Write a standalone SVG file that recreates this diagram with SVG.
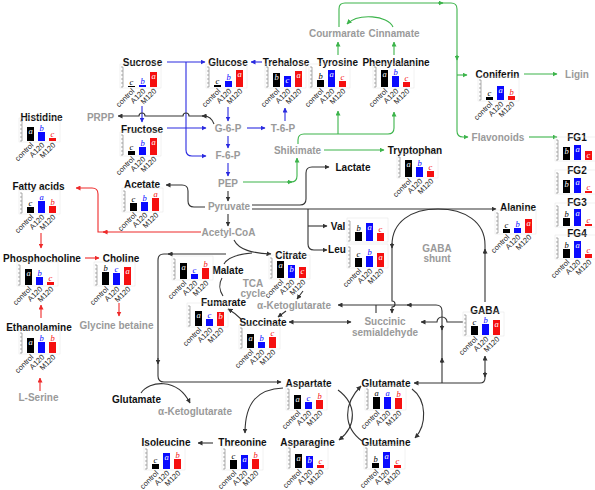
<svg xmlns="http://www.w3.org/2000/svg" xmlns:xlink="http://www.w3.org/1999/xlink" width="595" height="490" viewBox="0 0 595 490">
<style>
.n{font:bold 10px "Liberation Sans",Arial,sans-serif;fill:#111;text-anchor:middle}
.g{font:bold 10px "Liberation Sans",Arial,sans-serif;fill:#9a9a9a;text-anchor:middle}
.k{fill:none;stroke:#333;stroke-width:1.1}
.b{fill:none;stroke:#2a2ae0;stroke-width:1.1}
.gr{fill:none;stroke:#3cb44b;stroke-width:1.1}
.r{fill:none;stroke:#ee2a2a;stroke-width:1.1}
.bk{fill:#000}.bb{fill:#0a0aff}.br{fill:#f51010}
.l{font:italic 8.5px "Liberation Serif",serif;text-anchor:middle}
.lw{fill:#fff}.lk{fill:#000}.lb{fill:#0a0aff}.lr{fill:#f51010}
.cl{font:7.5px "Liberation Sans",Arial,sans-serif;text-anchor:end;fill:#222}
</style>
<defs>
<marker id="mk" viewBox="0 0 10 10" refX="9" refY="5" markerWidth="5" markerHeight="5" markerUnits="userSpaceOnUse" orient="auto-start-reverse"><path d="M0,0L10,5L0,10z" fill="#333"/></marker>
<marker id="mb" viewBox="0 0 10 10" refX="9" refY="5" markerWidth="5" markerHeight="5" markerUnits="userSpaceOnUse" orient="auto-start-reverse"><path d="M0,0L10,5L0,10z" fill="#2a2ae0"/></marker>
<marker id="mg" viewBox="0 0 10 10" refX="9" refY="5" markerWidth="5" markerHeight="5" markerUnits="userSpaceOnUse" orient="auto-start-reverse"><path d="M0,0L10,5L0,10z" fill="#3cb44b"/></marker>
<marker id="mr" viewBox="0 0 10 10" refX="9" refY="5" markerWidth="5" markerHeight="5" markerUnits="userSpaceOnUse" orient="auto-start-reverse"><path d="M0,0L10,5L0,10z" fill="#ee2a2a"/></marker>
<g id="ax">
<rect x="-3" y="-23" width="41" height="24" fill="none" stroke="#e4e4e4" stroke-width="0.5"/>
<path d="M0,-20V0M-2,0H0M-2,-4H0M-2,-8H0M-2,-12H0M-2,-16H0M-2,-20H0" stroke="#777" stroke-width="0.6" fill="none"/>
</g>
<g id="lb">
<text class="cl" transform="translate(12,4.5) rotate(-45)">control</text>
<text class="cl" transform="translate(23,4.5) rotate(-45)">A120</text>
<text class="cl" transform="translate(34,4.5) rotate(-45)">M120</text>
</g>
</defs>
<rect width="595" height="490" fill="#fff"/>

<g id="edges">
<path class="b" d="M167,62H205" marker-end="url(#mb)"/>
<path class="b" d="M186,62V150Q186,156 192,156H206" marker-end="url(#mb)"/>
<path class="b" d="M167,128H206" marker-end="url(#mb)"/>
<path class="b" d="M262,62H251" marker-end="url(#mb)"/>
<path class="b" d="M228,107V121" marker-end="url(#mb)"/>
<path class="b" d="M228,136V148" marker-end="url(#mb)"/>
<path class="b" d="M247,128H265" marker-end="url(#mb)"/>
<path class="b" d="M285,121V108" marker-end="url(#mb)"/>
<path class="b" d="M228,163V176" marker-end="url(#mb)"/>
<path class="b" d="M142,106V122" marker-end="url(#mb)"/>
<path class="k" d="M228,191V201" marker-end="url(#mk)"/>
<path class="k" d="M228,214V226" marker-end="url(#mk)"/>
<path class="k" d="M205,207H194Q188,207 188,201V191Q188,185 182,185H166" marker-end="url(#mk)"/>
<path class="k" d="M214,124Q211,116 204,116H189a3,3 0 0 0 -6,0H145a3,3 0 0 0 -6,0H118" marker-end="url(#mk)"/>
<path class="k" d="M207,116H202" marker-end="url(#mk)"/>
<path class="k" d="M252,205H300Q306,205 306,199V173Q306,167 312,167H329" marker-end="url(#mk)"/>
<path class="k" d="M252,209H496" marker-end="url(#mk)"/>
<path class="k" d="M308,209V244Q308,250 314,250H327" marker-end="url(#mk)"/>
<path class="k" d="M308,226H327" marker-end="url(#mk)"/>
<path class="k" d="M485,302V245C485,222 465,209 438,209C411,209 392,222 392,245V301a3,3 0 0 1 0,6V313" marker-end="url(#mk)"/>
<path class="k" d="M485,254V249" marker-end="url(#mk)"/>
<path class="k" d="M392,243V248" marker-end="url(#mk)"/>
<path class="k" d="M442,383V311Q442,305 436,305H338" marker-end="url(#mk)"/>
<path class="k" d="M412,305H407" marker-end="url(#mk)"/>
<path class="k" d="M442,325V330" marker-end="url(#mk)"/>
<path class="k" d="M442,363V358" marker-end="url(#mk)"/>
<path class="k" d="M376,305V313"/>
<path class="k" d="M463,322H447a5,5 0 0 0 -10,0H421" marker-end="url(#mk)"/>
<path class="k" d="M289,322H351" marker-start="url(#mk)" marker-end="url(#mk)"/>
<path class="k" d="M485,356V378Q485,383 480,383H414" marker-start="url(#mk)" marker-end="url(#mk)"/>
<path class="k" d="M485,372V377" marker-end="url(#mk)"/>
<path class="k" d="M226,254H164Q158,254 158,260V376Q158,382 164,382H281" marker-end="url(#mk)"/>
<path class="k" d="M173,254H168" marker-end="url(#mk)"/>
<path class="k" d="M158,358V364" marker-end="url(#mk)"/>
<path class="k" d="M141,393C149,381 177,377 190,403" marker-end="url(#mk)"/>
<path class="k" d="M234,240C239,250 252,253 271,254" marker-end="url(#mk)"/>
<path class="k" d="M224,264C228,257 240,254 252,253"/>
<path class="k" d="M223,296C219,290 219,283 222,278"/>
<path class="k" d="M303,291L297,299" marker-end="url(#mk)"/>
<path class="k" d="M286,311L278,317" marker-end="url(#mk)"/>
<path class="k" d="M241,319Q235,313 228,309" marker-end="url(#mk)"/>
<path class="k" d="M283,388C258,389 245,402 245,433" marker-end="url(#mk)"/>
<path class="k" d="M213,443H198" marker-end="url(#mk)"/>
<path class="k" d="M338,390C357,404 357,426 339,440" marker-end="url(#mk)"/>
<path class="k" d="M362,441C343,427 343,404 361,386" marker-end="url(#mk)"/>
<path class="k" d="M412,389C427,400 427,425 415,438" marker-end="url(#mk)"/>
<path class="r" d="M201,232H98V194Q98,188 92,188H76" marker-end="url(#mr)"/>
<path class="r" d="M108,232H103" marker-end="url(#mr)"/>
<path class="r" d="M41,233V248" marker-end="url(#mr)"/>
<path class="r" d="M85,258H99" marker-end="url(#mr)"/>
<path class="r" d="M119,303V316" marker-end="url(#mr)"/>
<path class="r" d="M41,318V305" marker-end="url(#mr)"/>
<path class="r" d="M40,391V378" marker-end="url(#mr)"/>
<path class="gr" d="M243,182H291Q297,182 297,176V158" marker-end="url(#mg)"/>
<path class="gr" d="M287,182H292" marker-end="url(#mg)"/>
<path class="gr" d="M324,150H384" marker-end="url(#mg)"/>
<path class="gr" d="M298,144V140Q298,134 304,134H388Q394,134 394,128V112" marker-end="url(#mg)"/>
<path class="gr" d="M338,134V111" marker-end="url(#mg)"/>
<path class="gr" d="M338,55V42" marker-end="url(#mg)"/>
<path class="gr" d="M394,55V42" marker-end="url(#mg)"/>
<path class="gr" d="M393,27C388,15 358,13 347,24" marker-end="url(#mg)"/>
<path class="gr" d="M339,27V9Q339,3 345,3H451Q457,3 457,9V131Q457,137 463,137H468" marker-end="url(#mg)"/>
<path class="gr" d="M457,75H467" marker-end="url(#mg)"/>
<path class="gr" d="M438,3H443" marker-end="url(#mg)"/>
<path class="gr" d="M457,55V60" marker-end="url(#mg)"/>
<path class="gr" d="M524,74H557" marker-end="url(#mg)"/>
<path class="gr" d="M529,137H557" marker-end="url(#mg)"/>
</g>

<g id="courmarate"><text class="g" x="337" y="37">Courmarate</text></g>
<g id="cinnamate"><text class="g" x="394" y="37">Cinnamate</text></g>
<g id="ligin"><text class="g" x="577" y="78">Ligin</text></g>
<g id="prpp"><text class="g" x="100.5" y="121">PRPP</text></g>
<g id="g6p"><text class="g" x="228" y="132">G-6-P</text></g>
<g id="t6p"><text class="g" x="283" y="132">T-6-P</text></g>
<g id="flavonoids"><text class="g" x="498" y="141">Flavonoids</text></g>
<g id="f6p"><text class="g" x="228" y="159">F-6-P</text></g>
<g id="shikimate"><text class="g" x="297.5" y="154">Shikimate</text></g>
<g id="pep"><text class="g" x="228" y="187">PEP</text></g>
<g id="pyruvate"><text class="g" x="229" y="210">Pyruvate</text></g>
<g id="acetylcoa"><text class="g" x="228.5" y="236">Acetyl-CoA</text></g>
<g id="gabashunt"><text class="g" x="437" y="252">GABA</text><text class="g" x="437" y="262">shunt</text></g>
<g id="tca"><text class="g" x="253" y="287">TCA</text><text class="g" x="253" y="297">cycle</text></g>
<g id="akg"><text class="g" x="294" y="309">α-Ketoglutarate</text></g>
<g id="ssa"><text class="g" x="385" y="325">Succinic</text><text class="g" x="385" y="336">semialdehyde</text></g>
<g id="glycinebetaine"><text class="g" x="116.5" y="329">Glycine betaine</text></g>
<g id="lserine"><text class="g" x="38.5" y="401">L-Serine</text></g>
<g id="akg2"><text class="g" x="195" y="415">α-Ketoglutarate</text></g>
<g id="lactate"><text class="n" x="353" y="171">Lactate</text></g>
<g id="glutamate2"><text class="n" x="136.5" y="403">Glutamate</text></g>

<g id="sucrose"><text class="n" x="142.5" y="66">Sucrose</text><g transform="translate(123,87)"><use href="#ax"/><use href="#lb"/>
<rect class="bk" x="5" y="-1" width="7" height="1"/><rect class="bb" x="16" y="-2" width="7" height="2"/><rect class="br" x="27" y="-15" width="7" height="15"/>
<text class="l lk" x="8.5" y="-2.5">c</text><text class="l lb" x="19.5" y="-3.5">b</text><text class="l lw" x="30.5" y="-8">a</text></g></g>

<g id="glucose"><text class="n" x="228" y="66">Glucose</text><g transform="translate(209,87)"><use href="#ax"/><use href="#lb"/>
<rect class="bk" x="5" y="-2" width="7" height="2"/><rect class="bb" x="16" y="-6" width="7" height="6"/><rect class="br" x="27" y="-17" width="7" height="17"/>
<text class="l lk" x="8.5" y="-3.5">c</text><text class="l lb" x="19.5" y="-7.5">b</text><text class="l lw" x="30.5" y="-10">a</text></g></g>

<g id="trehalose"><text class="n" x="286" y="66">Trehalose</text><g transform="translate(268,87)"><use href="#ax"/><use href="#lb"/>
<rect class="bk" x="5" y="-14" width="7" height="14"/><rect class="bb" x="16" y="-11" width="7" height="11"/><rect class="br" x="27" y="-16" width="7" height="16"/>
<text class="l lw" x="8.5" y="-7">b</text><text class="l lw" x="19.5" y="-4">c</text><text class="l lw" x="30.5" y="-9">a</text></g></g>

<g id="tyrosine"><text class="n" x="337.5" y="66">Tyrosine</text><g transform="translate(312,87)"><use href="#ax"/><use href="#lb"/>
<rect class="bk" x="5" y="-7" width="7" height="7"/><rect class="bb" x="16" y="-17" width="7" height="17"/><rect class="br" x="27" y="-6" width="7" height="6"/>
<text class="l lk" x="8.5" y="-8.5">b</text><text class="l lw" x="19.5" y="-10">a</text><text class="l lr" x="30.5" y="-7.5">c</text></g></g>

<g id="phenylalanine"><text class="n" x="396" y="66">Phenylalanine</text><g transform="translate(376,87)"><use href="#ax"/><use href="#lb"/>
<rect class="bk" x="5" y="-17" width="7" height="17"/><rect class="bb" x="16" y="-11" width="7" height="11"/><rect class="br" x="27" y="-5" width="7" height="5"/>
<text class="l lw" x="8.5" y="-10">a</text><text class="l lb" x="19.5" y="-12.5">b</text><text class="l lr" x="30.5" y="-6.5">c</text></g></g>

<g id="coniferin"><text class="n" x="497.5" y="78">Coniferin</text><g transform="translate(481,100)"><use href="#ax"/><use href="#lb"/>
<rect class="bk" x="5" y="-3" width="7" height="3"/><rect class="bb" x="16" y="-14" width="7" height="14"/><rect class="br" x="27" y="-4" width="7" height="4"/>
<text class="l lk" x="8.5" y="-4.5">c</text><text class="l lw" x="19.5" y="-7">a</text><text class="l lr" x="30.5" y="-5.5">b</text></g></g>

<g id="histidine"><text class="n" x="41.5" y="121">Histidine</text><g transform="translate(22,141)"><use href="#ax"/><use href="#lb"/>
<rect class="bk" x="5" y="-14" width="7" height="14"/><rect class="bb" x="16" y="-9" width="7" height="9"/><rect class="br" x="27" y="-3" width="7" height="3"/>
<text class="l lw" x="8.5" y="-7">a</text><text class="l lb" x="19.5" y="-10.5">b</text><text class="l lr" x="30.5" y="-4.5">c</text></g></g>

<g id="fructose"><text class="n" x="142" y="133">Fructose</text><g transform="translate(123,155)"><use href="#ax"/><use href="#lb"/>
<rect class="bk" x="5" y="-4" width="7" height="4"/><rect class="bb" x="16" y="-8" width="7" height="8"/><rect class="br" x="27" y="-17" width="7" height="17"/>
<text class="l lk" x="8.5" y="-5.5">c</text><text class="l lb" x="19.5" y="-9.5">b</text><text class="l lw" x="30.5" y="-10">a</text></g></g>

<g id="tryptophan"><text class="n" x="415" y="154">Tryptophan</text><g transform="translate(400,177)"><use href="#ax"/><use href="#lb"/>
<rect class="bk" x="5" y="-17" width="7" height="17"/><rect class="bb" x="16" y="-10" width="7" height="10"/><rect class="br" x="27" y="-6" width="7" height="6"/>
<text class="l lw" x="8.5" y="-10">a</text><text class="l lb" x="19.5" y="-11.5">b</text><text class="l lr" x="30.5" y="-7.5">c</text></g></g>

<g id="fg1"><text class="n" x="577" y="141">FG1</text><g transform="translate(558,160)"><use href="#ax"/>
<rect class="bk" x="5" y="-13" width="7" height="13"/><rect class="bb" x="16" y="-15" width="7" height="15"/><rect class="br" x="27" y="-9" width="7" height="9"/>
<text class="l lw" x="8.5" y="-6">b</text><text class="l lw" x="19.5" y="-8">a</text><text class="l lw" x="30.5" y="-2">c</text></g></g>

<g id="fg2"><text class="n" x="577" y="174">FG2</text><g transform="translate(558,193)"><use href="#ax"/>
<rect class="bk" x="5" y="-13" width="7" height="13"/><rect class="bb" x="16" y="-15" width="7" height="15"/><rect class="br" x="27" y="-2" width="7" height="2"/>
<text class="l lw" x="8.5" y="-6">b</text><text class="l lw" x="19.5" y="-8">a</text><text class="l lr" x="30.5" y="-3.5">c</text></g></g>

<g id="fg3"><text class="n" x="577" y="206">FG3</text><g transform="translate(558,226)"><use href="#ax"/>
<rect class="bk" x="5" y="-8" width="7" height="8"/><rect class="bb" x="16" y="-17" width="7" height="17"/><rect class="br" x="27" y="-2" width="7" height="2"/>
<text class="l lk" x="8.5" y="-9.5">b</text><text class="l lw" x="19.5" y="-10">a</text><text class="l lr" x="30.5" y="-3.5">c</text></g></g>

<g id="fg4"><text class="n" x="577" y="237">FG4</text><g transform="translate(558,258)"><use href="#ax"/><use href="#lb"/>
<rect class="bk" x="5" y="-9" width="7" height="9"/><rect class="bb" x="16" y="-17" width="7" height="17"/><rect class="br" x="27" y="-4" width="7" height="4"/>
<text class="l lk" x="8.5" y="-10.5">b</text><text class="l lw" x="19.5" y="-10">a</text><text class="l lr" x="30.5" y="-5.5">c</text></g></g>

<g id="acetate"><text class="n" x="142" y="188">Acetate</text><g transform="translate(125,211)"><use href="#ax"/><use href="#lb"/>
<rect class="bk" x="5" y="-8" width="7" height="8"/><rect class="bb" x="16" y="-9" width="7" height="9"/><rect class="br" x="27" y="-13" width="7" height="13"/>
<text class="l lk" x="8.5" y="-9.5">c</text><text class="l lb" x="19.5" y="-10.5">b</text><text class="l lr" x="30.5" y="-14.5">a</text></g></g>

<g id="fattyacids"><text class="n" x="38.5" y="189.5">Fatty acids</text><g transform="translate(22,213)"><use href="#ax"/><use href="#lb"/>
<rect class="bk" x="5" y="-6" width="7" height="6"/><rect class="bb" x="16" y="-12" width="7" height="12"/><rect class="br" x="27" y="-7" width="7" height="7"/>
<text class="l lk" x="8.5" y="-7.5">c</text><text class="l lb" x="19.5" y="-13.5">a</text><text class="l lr" x="30.5" y="-8.5">b</text></g></g>

<g id="val"><text class="n" x="338" y="230">Val</text><g transform="translate(350,241)"><use href="#ax"/>
<rect class="bk" x="5" y="-9" width="7" height="9"/><rect class="bb" x="16" y="-18" width="7" height="18"/><rect class="br" x="27" y="-8" width="7" height="8"/>
<text class="l lk" x="8.5" y="-10.5">b</text><text class="l lw" x="19.5" y="-11">a</text><text class="l lr" x="30.5" y="-9.5">c</text></g></g>

<g id="leu"><text class="n" x="337" y="253">Leu</text><g transform="translate(350,267)"><use href="#ax"/><use href="#lb"/>
<rect class="bk" x="5" y="-9" width="7" height="9"/><rect class="bb" x="16" y="-11" width="7" height="11"/><rect class="br" x="27" y="-14" width="7" height="14"/>
<text class="l lk" x="8.5" y="-10.5">c</text><text class="l lb" x="19.5" y="-12.5">b</text><text class="l lw" x="30.5" y="-7">a</text></g></g>

<g id="alanine"><text class="n" x="518" y="211">Alanine</text><g transform="translate(498,233)"><use href="#ax"/><use href="#lb"/>
<rect class="bk" x="5" y="-4" width="7" height="4"/><rect class="bb" x="16" y="-5" width="7" height="5"/><rect class="br" x="27" y="-14" width="7" height="14"/>
<text class="l lk" x="8.5" y="-5.5">c</text><text class="l lb" x="19.5" y="-6.5">b</text><text class="l lw" x="30.5" y="-7">a</text></g></g>

<g id="phosphocholine"><text class="n" x="42" y="262">Phosphocholine</text><g transform="translate(20,285)"><use href="#ax"/><use href="#lb"/>
<rect class="bk" x="5" y="-16" width="7" height="16"/><rect class="bb" x="16" y="-8" width="7" height="8"/><rect class="br" x="27" y="-3" width="7" height="3"/>
<text class="l lw" x="8.5" y="-9">a</text><text class="l lb" x="19.5" y="-9.5">b</text><text class="l lr" x="30.5" y="-4.5">c</text></g></g>

<g id="choline"><text class="n" x="121" y="262">Choline</text><g transform="translate(97,285)"><use href="#ax"/><use href="#lb"/>
<rect class="bk" x="5" y="-13" width="7" height="13"/><rect class="bb" x="16" y="-12" width="7" height="12"/><rect class="br" x="27" y="-18" width="7" height="18"/>
<text class="l lk" x="8.5" y="-14.5">b</text><text class="l lb" x="19.5" y="-13.5">c</text><text class="l lw" x="30.5" y="-11">a</text></g></g>

<g id="citrate"><text class="n" x="291" y="259">Citrate</text><g transform="translate(272,278)"><use href="#ax"/><use href="#lb"/>
<rect class="bk" x="5" y="-17" width="7" height="17"/><rect class="bb" x="16" y="-13" width="7" height="13"/><rect class="br" x="27" y="-11" width="7" height="11"/>
<text class="l lw" x="8.5" y="-10">a</text><text class="l lw" x="19.5" y="-6">b</text><text class="l lw" x="30.5" y="-4">c</text></g></g>

<g id="malate"><text class="n" x="228" y="274">Malate</text><g transform="translate(175,279)"><use href="#ax"/><use href="#lb"/>
<rect class="bk" x="5" y="-16" width="7" height="16"/><rect class="bb" x="16" y="-5" width="7" height="5"/><rect class="br" x="27" y="-11" width="7" height="11"/>
<text class="l lw" x="8.5" y="-9">a</text><text class="l lb" x="19.5" y="-6.5">c</text><text class="l lr" x="30.5" y="-12.5">b</text></g></g>

<g id="fumarate"><text class="n" x="223.5" y="306">Fumarate</text><g transform="translate(190,326)"><use href="#ax"/><use href="#lb"/>
<rect class="bk" x="5" y="-15" width="7" height="15"/><rect class="bb" x="16" y="-7" width="7" height="7"/><rect class="br" x="27" y="-14" width="7" height="14"/>
<text class="l lw" x="8.5" y="-8">a</text><text class="l lb" x="19.5" y="-8.5">c</text><text class="l lw" x="30.5" y="-7">b</text></g></g>

<g id="succinate"><text class="n" x="263" y="326">Succinate</text><g transform="translate(242,348)"><use href="#ax"/><use href="#lb"/>
<rect class="bk" x="5" y="-14" width="7" height="14"/><rect class="bb" x="16" y="-6" width="7" height="6"/><rect class="br" x="27" y="-11" width="7" height="11"/>
<text class="l lw" x="8.5" y="-7">a</text><text class="l lb" x="19.5" y="-7.5">b</text><text class="l lr" x="30.5" y="-12.5">c</text></g></g>

<g id="gaba"><text class="n" x="485" y="314">GABA</text><g transform="translate(466,335)"><use href="#ax"/><use href="#lb"/>
<rect class="bk" x="5" y="-9" width="7" height="9"/><rect class="bb" x="16" y="-11" width="7" height="11"/><rect class="br" x="27" y="-15" width="7" height="15"/>
<text class="l lk" x="8.5" y="-10.5">c</text><text class="l lb" x="19.5" y="-12.5">b</text><text class="l lw" x="30.5" y="-8">a</text></g></g>

<g id="ethanolamine"><text class="n" x="39" y="331">Ethanolamine</text><g transform="translate(22,353)"><use href="#ax"/><use href="#lb"/>
<rect class="bk" x="5" y="-15" width="7" height="15"/><rect class="bb" x="16" y="-11" width="7" height="11"/><rect class="br" x="27" y="-11" width="7" height="11"/>
<text class="l lw" x="8.5" y="-8">a</text><text class="l lb" x="19.5" y="-12.5">b</text><text class="l lr" x="30.5" y="-12.5">b</text></g></g>

<g id="aspartate"><text class="n" x="308.5" y="387">Aspartate</text><g transform="translate(289,409)"><use href="#ax"/><use href="#lb"/>
<rect class="bk" x="5" y="-14" width="7" height="14"/><rect class="bb" x="16" y="-7" width="7" height="7"/><rect class="br" x="27" y="-9" width="7" height="9"/>
<text class="l lw" x="8.5" y="-7">a</text><text class="l lb" x="19.5" y="-8.5">c</text><text class="l lr" x="30.5" y="-10.5">b</text></g></g>

<g id="glutamate"><text class="n" x="386" y="387">Glutamate</text><g transform="translate(368,409)"><use href="#ax"/><use href="#lb"/>
<rect class="bk" x="5" y="-12" width="7" height="12"/><rect class="bb" x="16" y="-12" width="7" height="12"/><rect class="br" x="27" y="-11" width="7" height="11"/>
<text class="l lk" x="8.5" y="-13.5">a</text><text class="l lb" x="19.5" y="-13.5">a</text><text class="l lr" x="30.5" y="-12.5">b</text></g></g>

<g id="isoleucine"><text class="n" x="166" y="446">Isoleucine</text><g transform="translate(147,469)"><use href="#ax"/><use href="#lb"/>
<rect class="bk" x="5" y="-5" width="7" height="5"/><rect class="bb" x="16" y="-16" width="7" height="16"/><rect class="br" x="27" y="-10" width="7" height="10"/>
<text class="l lk" x="8.5" y="-6.5">c</text><text class="l lw" x="19.5" y="-9">a</text><text class="l lr" x="30.5" y="-11.5">b</text></g></g>

<g id="threonine"><text class="n" x="242.5" y="446">Threonine</text><g transform="translate(225,469)"><use href="#ax"/><use href="#lb"/>
<rect class="bk" x="5" y="-9" width="7" height="9"/><rect class="bb" x="16" y="-14" width="7" height="14"/><rect class="br" x="27" y="-10" width="7" height="10"/>
<text class="l lk" x="8.5" y="-10.5">c</text><text class="l lw" x="19.5" y="-7">a</text><text class="l lr" x="30.5" y="-11.5">b</text></g></g>

<g id="asparagine"><text class="n" x="307.5" y="446">Asparagine</text><g transform="translate(290,468)"><use href="#ax"/><use href="#lb"/>
<rect class="bk" x="5" y="-14" width="7" height="14"/><rect class="bb" x="16" y="-12" width="7" height="12"/><rect class="br" x="27" y="-3" width="7" height="3"/>
<text class="l lw" x="8.5" y="-7">a</text><text class="l lw" x="19.5" y="-5">b</text><text class="l lr" x="30.5" y="-4.5">c</text></g></g>

<g id="glutamine"><text class="n" x="386" y="446">Glutamine</text><g transform="translate(367,468)"><use href="#ax"/><use href="#lb"/>
<rect class="bk" x="5" y="-5" width="7" height="5"/><rect class="bb" x="16" y="-16" width="7" height="16"/><rect class="br" x="27" y="-3" width="7" height="3"/>
<text class="l lk" x="8.5" y="-6.5">b</text><text class="l lw" x="19.5" y="-9">a</text><text class="l lr" x="30.5" y="-4.5">c</text></g></g>
</svg>
